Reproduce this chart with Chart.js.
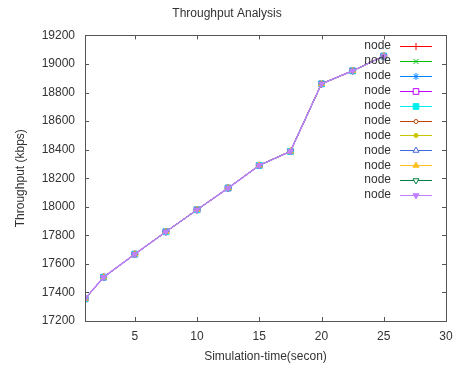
<!DOCTYPE html>
<html>
<head>
<meta charset="utf-8">
<script src="https://cdn.jsdelivr.net/npm/chart.js@4/dist/chart.umd.min.js"></script>
<style>
  html, body { margin: 0; padding: 0; background: #fff; }
  #wrap { width: 454px; height: 367px; }
</style>
</head>
<body>
<div id="wrap"><canvas id="throughputChart" width="454" height="367"></canvas></div>
<script>
// simulation time (s)
const simTime = [1, 2.5, 5, 7.5, 10, 12.5, 15, 17.5, 20, 22.5, 25]
// throughput (kbps) - every node plots on top of the others
const throughput = [17355, 17507, 17668, 17825, 17979, 18131, 18290, 18388, 18861, 18952, 19055]
const nodeNames = ["node", "node", "node", "node", "node", "node", "node", "node", "node", "node", "node"]
const yTicks = [17200, 17400, 17600, 17800, 18000, 18200, 18400, 18600, 18800, 19000, 19200]
const xTicks = [5, 10, 15, 20, 25, 30]

// gnuplot style line colours / point types
const colors = ["#ff0000", "#00c000", "#0080ff", "#c000ff", "#00eeee", "#c04000", "#c8c800", "#4169e1", "#ffc020", "#008040", "#c080ff"]
const markers = [
  { style: "cross", fill: false, rot: 0, r: 3.5 },
  { style: "crossRot", fill: false, rot: 0, r: 3.5 },
  { style: "star", fill: false, rot: 0, r: 3.5 },
  { style: "rect", fill: false, rot: 0, r: 4 },
  { style: "rect", fill: true, rot: 0, r: 4 },
  { style: "circle", fill: false, rot: 0, r: 2 },
  { style: "circle", fill: true, rot: 0, r: 2 },
  { style: "triangle", fill: false, rot: 0, r: 3.5 },
  { style: "triangle", fill: true, rot: 0, r: 3.5 },
  { style: "triangle", fill: false, rot: 180, r: 3.5 },
  { style: "triangle", fill: true, rot: 180, r: 3.5 },
]

const datasets = nodeNames.map((name, i) => ({
  label: name,
  data: simTime.map((t, j) => ({ x: t, y: throughput[j] })),
  borderColor: colors[i],
  backgroundColor: markers[i].fill ? colors[i] : "#ffffff",
  pointBorderColor: colors[i],
  pointStyle: markers[i].style,
  pointRotation: markers[i].rot,
  pointRadius: markers[i].r,
  pointBorderWidth: 1,
  borderWidth: i === nodeNames.length - 1 ? 1.5 : 1,
  tension: 0,
  fill: false,
  order: -i, // later nodes are drawn on top, like gnuplot
}))

// frame with inward ticks on all four sides
const framePlugin = {
  id: "frame",
  afterDatasetsDraw(chart) {
    const { ctx, chartArea: a, scales } = chart
    ctx.save()
    ctx.strokeStyle = "#555"
    ctx.lineWidth = 1
    ctx.strokeRect(Math.round(a.left) + 0.5, Math.round(a.top) + 0.5, Math.round(a.right - a.left), Math.round(a.bottom - a.top))
    ctx.beginPath()
    xTicks.forEach((v) => {
      const px = Math.round(scales.x.getPixelForValue(v)) + 0.5
      ctx.moveTo(px, a.bottom); ctx.lineTo(px, a.bottom - 4)
      ctx.moveTo(px, a.top); ctx.lineTo(px, a.top + 4)
    })
    yTicks.forEach((v) => {
      const py = Math.round(scales.y.getPixelForValue(v)) + 0.5
      ctx.moveTo(a.left, py); ctx.lineTo(a.left + 4, py)
      ctx.moveTo(a.right, py); ctx.lineTo(a.right - 4, py)
    })
    ctx.stroke()
    ctx.restore()
  },
}

// gnuplot-like key: text on the left, line sample + marker on the right
const keyPlugin = {
  id: "gnuKey",
  afterDraw(chart) {
    const { ctx } = chart
    ctx.save()
    ctx.font = "12px 'Liberation Sans', Arial, sans-serif"
    ctx.textAlign = "right"
    ctx.textBaseline = "middle"
    chart.data.datasets.forEach((ds, i) => {
      const y = 46 + i * 14.9
      ctx.fillStyle = "#333"
      ctx.fillText(ds.label, 391, y)
      ctx.strokeStyle = ds.borderColor
      ctx.lineWidth = 1
      ctx.beginPath()
      ctx.moveTo(400, Math.round(y) + 0.5)
      ctx.lineTo(432, Math.round(y) + 0.5)
      ctx.stroke()
      ctx.fillStyle = ds.backgroundColor
      Chart.helpers.drawPoint(ctx, {
        pointStyle: ds.pointStyle,
        rotation: ds.pointRotation,
        radius: ds.pointRadius,
        borderWidth: 1,
      }, 416, Math.round(y) + 0.5)
    })
    ctx.restore()
  },
}

const tickFont = { family: "'Liberation Sans', Arial, sans-serif", size: 12, weight: "normal" }

new Chart(document.getElementById("throughputChart"), {
  type: "line",
  data: { datasets },
  options: {
    responsive: false,
    animation: false,
    layout: { padding: { left: 0, right: 0, top: 0, bottom: 0 } },
    plugins: {
      legend: { display: false },
      tooltip: { enabled: false },
      title: {
        display: true,
        text: "Throughput Analysis",
        color: "#333",
        font: tickFont,
        padding: { top: 6, bottom: 15 },
      },
    },
    scales: {
      x: {
        type: "linear",
        min: 1,
        max: 30,
        afterBuildTicks: (scale) => { scale.ticks = xTicks.map((v) => ({ value: v })) },
        afterFit: (scale) => { scale.height = 46; scale.paddingRight = 8 },
        grid: { display: false, drawTicks: false },
        border: { display: false },
        ticks: { color: "#333", font: tickFont, padding: 8, maxRotation: 0 },
        title: {
          display: true,
          text: "Simulation-time(secon)",
          color: "#333",
          font: tickFont,
          padding: { top: 0, bottom: 3 },
        },
      },
      y: {
        min: 17200,
        max: 19200,
        afterBuildTicks: (scale) => { scale.ticks = yTicks.map((v) => ({ value: v })) },
        afterFit: (scale) => { scale.width = 85 },
        grid: { display: false, drawTicks: false },
        border: { display: false },
        ticks: { color: "#333", font: tickFont, padding: 10, callback: (v) => String(v) },
        title: {
          display: true,
          text: "Throughput (kbps)",
          color: "#333",
          font: tickFont,
          padding: { top: 13, bottom: 0 },
        },
      },
    },
  },
  plugins: [framePlugin, keyPlugin],
})
</script>
</body>
</html>
